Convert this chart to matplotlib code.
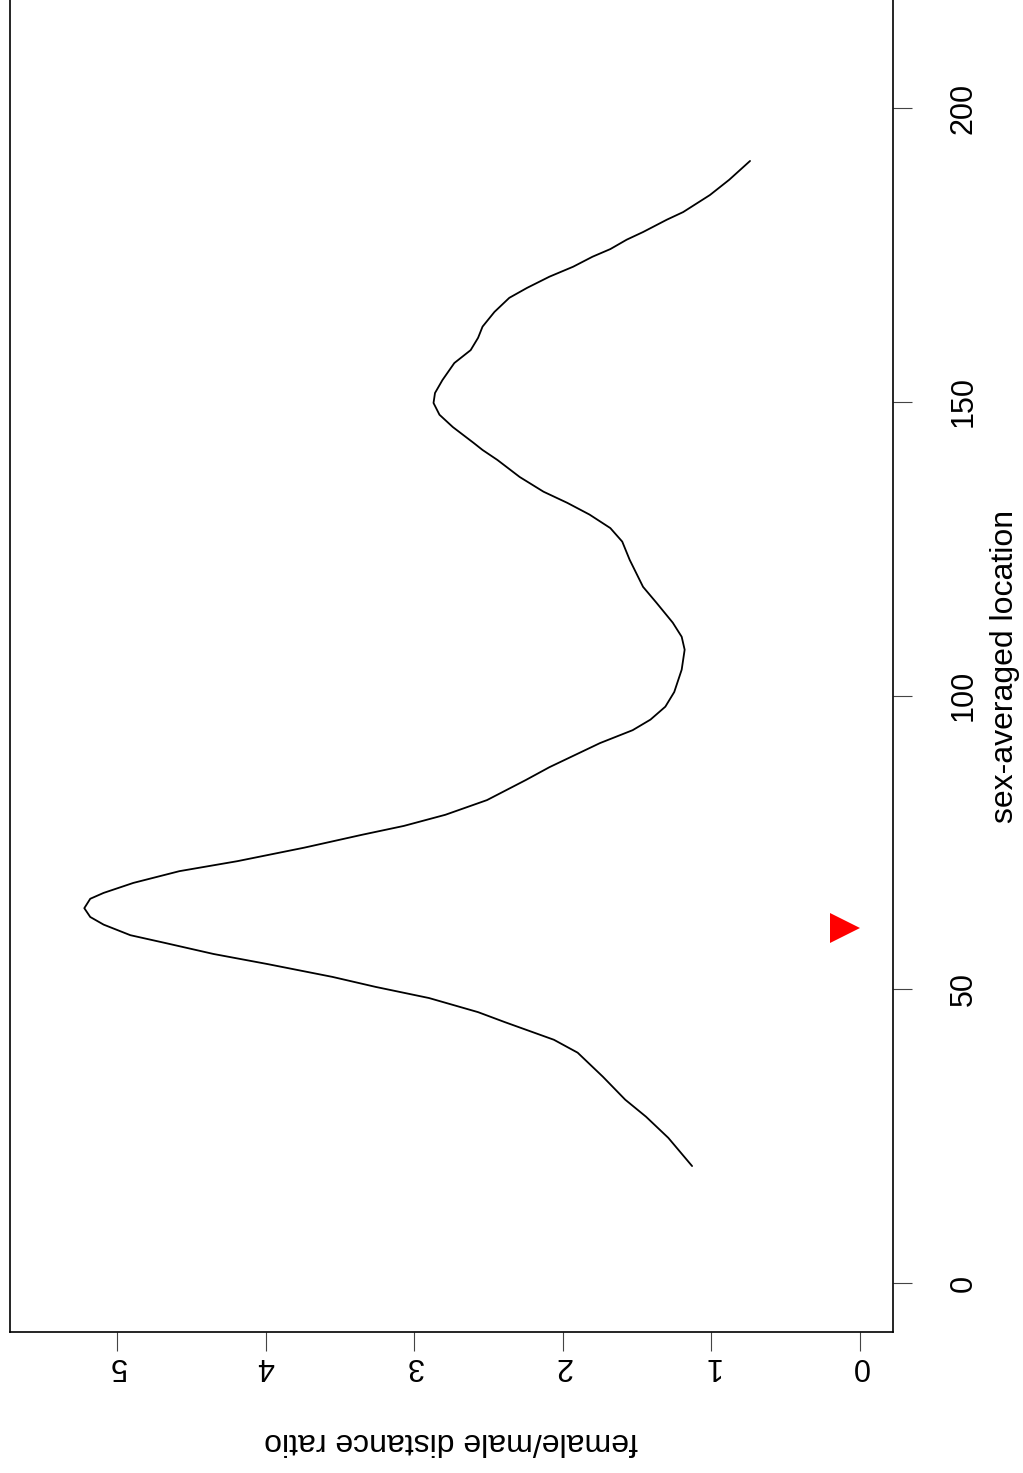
import matplotlib
matplotlib.use("Agg")
import matplotlib.pyplot as plt

plt.rcParams['font.family'] = ['Liberation Sans', 'DejaVu Sans']

# Sex-averaged map position (cM) and female/male distance ratio along it
location = [19.9, 24.7, 28.3, 31.2, 35.1, 39.2, 41.4, 44.4, 46.1, 48.5,
            50.4, 52.1, 54.3, 56.0, 57.9, 59.2, 61.0, 62.3, 63.8, 65.4,
            66.4, 68.1, 70.1, 71.8, 74.1, 76.3, 77.8, 79.7, 82.2, 85.6,
            87.8, 91.9, 94.1, 95.9, 98.1, 100.6, 104.4, 107.8, 110.0, 112.4,
            115.8, 118.5, 123.1, 126.2, 128.5, 130.8, 132.8, 134.7, 137.2, 140.1,
            141.8, 143.0, 145.7, 147.8, 149.8, 151.5, 153.7, 156.6, 158.8, 160.9,
            162.8, 165.3, 167.7, 169.4, 171.3, 173.0, 174.7, 176.0, 177.6, 178.9,
            181.0, 182.3, 185.2, 187.8, 191.0]
ratio = [1.13, 1.29, 1.44, 1.58, 1.73, 1.90, 2.06, 2.39, 2.57, 2.90,
         3.26, 3.55, 3.99, 4.35, 4.68, 4.91, 5.09, 5.18, 5.22, 5.18,
         5.09, 4.89, 4.58, 4.19, 3.74, 3.35, 3.07, 2.79, 2.51, 2.25,
         2.09, 1.75, 1.53, 1.41, 1.31, 1.25, 1.20, 1.18, 1.20, 1.26,
         1.37, 1.46, 1.55, 1.60, 1.68, 1.82, 1.97, 2.13, 2.29, 2.44,
         2.54, 2.60, 2.74, 2.83, 2.87, 2.86, 2.81, 2.73, 2.62, 2.57,
         2.54, 2.46, 2.36, 2.24, 2.09, 1.93, 1.80, 1.68, 1.57, 1.46,
         1.30, 1.19, 1.01, 0.88, 0.74]

# Marker position (locus of interest)
marker_location = [60.5]
marker_ratio = [0.10]

ratio_ticks = [0, 1, 2, 3, 4, 5]
location_ticks = [0, 50, 100, 150, 200]

W, H, DPI = 1023, 1473, 100
fig = plt.figure(figsize=(W / DPI, H / DPI), dpi=DPI)
ax = fig.add_axes([10 / W, (H - 1332.3) / H, 882.7 / W, 1332.3 / H])

# Plot is drawn rotated: ratio runs right-to-left, location bottom-to-top
ax.plot(ratio, location, color='black', lw=1.3, solid_capstyle='round',
        solid_joinstyle='round')
ax.plot(marker_ratio, marker_location, linestyle='none', marker='>',
        markersize=21.6, color='red', markeredgewidth=0)

ax.set_xlim(5.72, -0.22)
ax.set_ylim(-8.4, 218.4)

ax.spines['top'].set_visible(False)
for side in ('left', 'bottom', 'right'):
    ax.spines[side].set_linewidth(1.2)

ax.set_xticks(ratio_ticks)
ax.set_xticklabels([str(v) for v in ratio_ticks])
ax.yaxis.tick_right()
ax.yaxis.set_label_position('right')
ax.set_yticks(location_ticks)
ax.set_yticklabels([str(v) for v in location_ticks])

ax.tick_params(axis='x', direction='out', length=13.5, width=0.8,
               color='#444444', labelsize=22, labelrotation=180, pad=0.0)
ax.tick_params(axis='y', direction='out', length=13.5, width=0.8,
               color='#444444', labelsize=22, labelrotation=90, pad=27)
for lab in ax.get_yticklabels():
    lab.set_verticalalignment('center')

ax.set_xlabel('female/male distance ratio', fontsize=23, rotation=180,
              ha='center', va='center')
ax.xaxis.set_label_coords(0.5, -0.0815)
ax.set_ylabel('sex-averaged location', fontsize=23, rotation=90,
              ha='center', va='center')
ax.yaxis.set_label_coords(1.1272, 0.5)

fig.savefig('out.png', dpi=DPI)
